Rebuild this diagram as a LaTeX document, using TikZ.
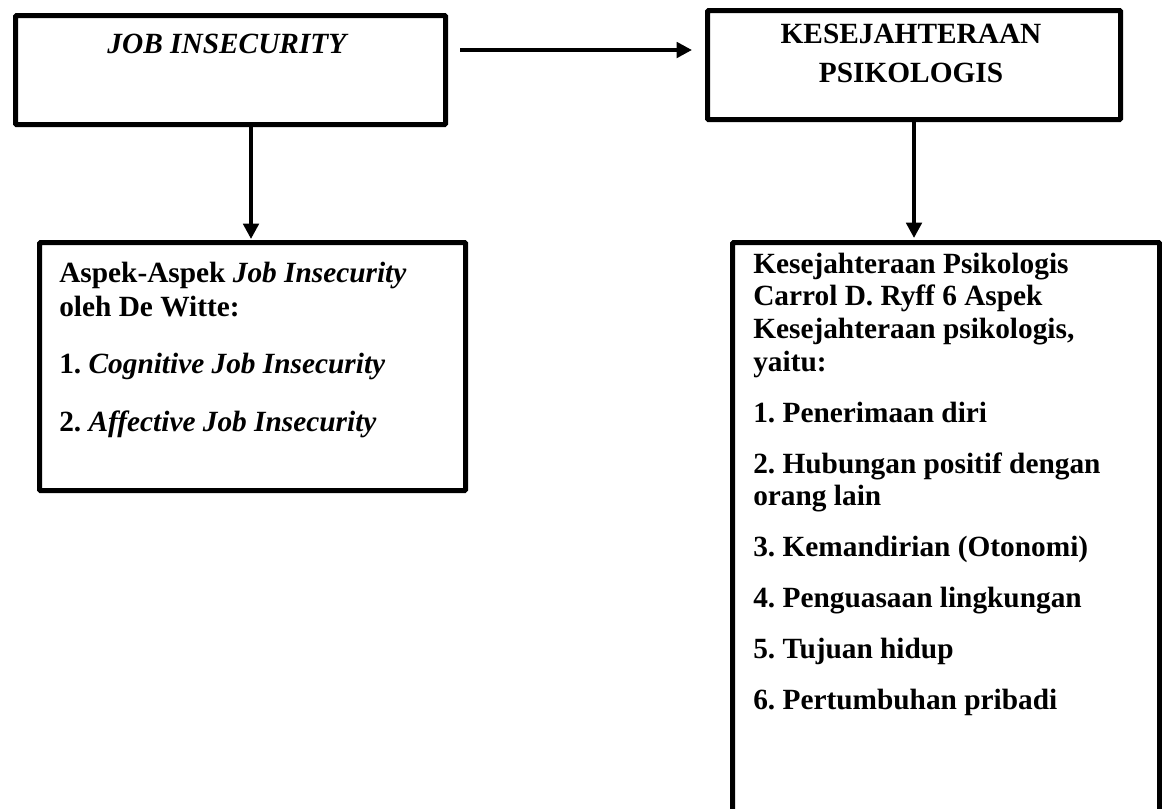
\documentclass[tikz,border=0pt]{standalone}
\usepackage{fontspec}
\setmainfont{Liberation Serif}
\usetikzlibrary{arrows.meta}
\frenchspacing
\begin{document}
\begin{tikzpicture}[x=0.75pt,y=-0.75pt,
  box/.style={draw=black,line width=3.8pt,rounded corners=0.8pt,inner sep=0pt,anchor=north west},
  txt/.style={inner sep=0pt,anchor=base west,font=\fontsize{22}{26}\selectfont\bfseries},
  ctxt/.style={inner sep=0pt,anchor=base,font=\fontsize{22}{26}\selectfont\bfseries},
  conn/.style={line width=2.8pt,-{Triangle[length=11.5pt,width=11.5pt]}}]
\useasboundingbox (0,0) rectangle (1162,808);
\clip (0,0) rectangle (1162,808);
% boxes
\node[box,minimum width=430*0.75pt,minimum height=109*0.75pt] (b1) at (13,13) {};
\node[box,minimum width=413*0.75pt,minimum height=109*0.75pt] (b2) at (705,8) {};
\node[box,minimum width=426*0.75pt,minimum height=248*0.75pt] (b3) at (37,240) {};
\node[box,minimum width=427*0.75pt,minimum height=600*0.75pt] (b4) at (730,240) {};
% titles
\node[ctxt] (t1) at (228,53) {\textit{JOB INSECURITY}};
\node[ctxt] (t2a) at (911,43) {KESEJAHTERAAN};
\node[ctxt] (t2b) at (911,82) {PSIKOLOGIS};
% left list
\node[txt] (l1) at (59,282) {Aspek-Aspek \textit{Job Insecurity}};
\node[txt] (l2) at (59,316) {oleh De Witte:};
\node[txt] (l3) at (59,373) {1.\ \textit{Cognitive Job Insecurity}};
\node[txt] (l4) at (59,431) {2.\ \textit{Affective Job Insecurity}};
% right list
\node[txt] (r1) at (753,273) {Kesejahteraan Psikologis};
\node[txt] (r2) at (753,305.7) {Carrol D. Ryff 6 Aspek};
\node[txt] (r3) at (753,338.4) {Kesejahteraan psikologis,};
\node[txt] (r4) at (753,371.1) {yaitu:};
\node[txt] (r5) at (753,422) {1. Penerimaan diri};
\node[txt] (r6) at (753,473) {2. Hubungan positif dengan};
\node[txt] (r7) at (753,505.7) {orang lain};
\node[txt] (r8) at (753,556.7) {3. Kemandirian (Otonomi)};
\node[txt] (r9) at (753,607.7) {4. Penguasaan lingkungan};
\node[txt] (r10) at (753,658.7) {5. Tujuan hidup};
\node[txt] (r11) at (753,709.7) {6. Pertumbuhan pribadi};
% connectors
\coordinate (h1) at (460,50);
\coordinate (h2) at (692,50);
\draw[conn] (h1) -- (h2);
\coordinate (v1a) at (251,122);
\coordinate (v1b) at (251,239);
\draw[conn] (v1a) -- (v1b);
\coordinate (v2a) at (914,122);
\coordinate (v2b) at (914,238);
\draw[conn] (v2a) -- (v2b);
\end{tikzpicture}
\end{document}
